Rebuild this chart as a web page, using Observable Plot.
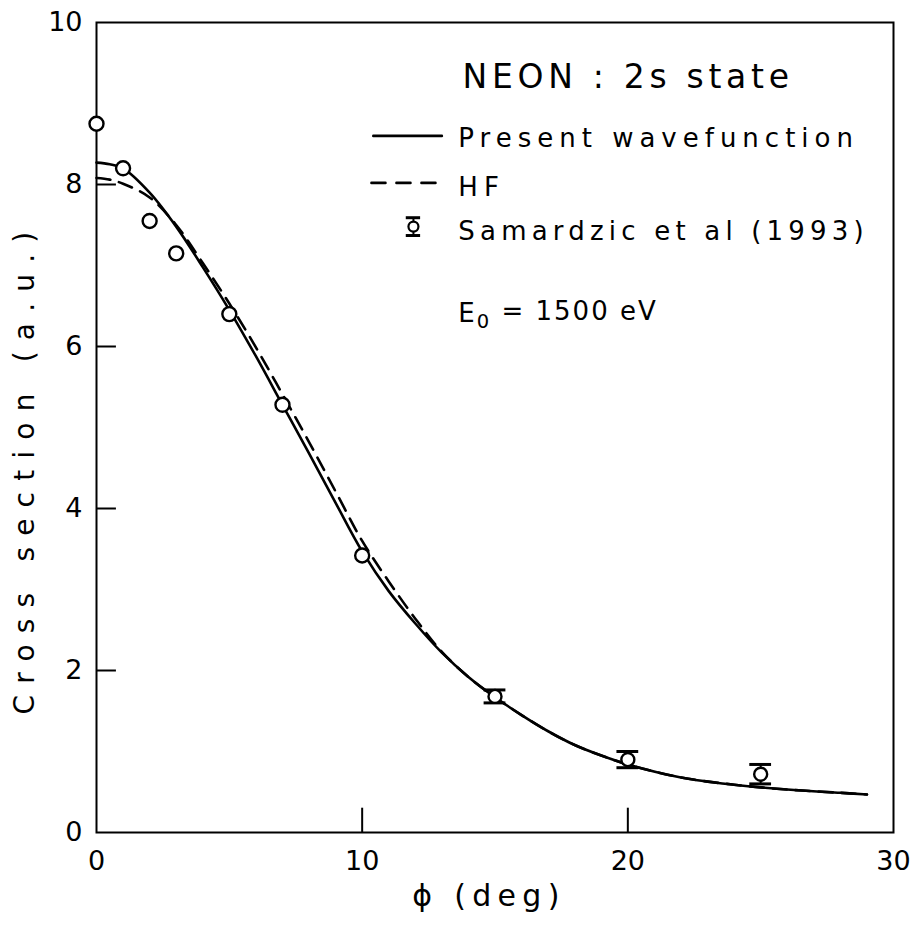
<!DOCTYPE html>
<html><head><meta charset="utf-8">
<script src="https://cdn.jsdelivr.net/npm/d3@7"></script>
<script src="https://cdn.jsdelivr.net/npm/@observablehq/plot@0.6"></script>
<style>
body{margin:0;background:#fff}
</style>
</head><body><div id="chart"></div>
<script>
// tick labels
const xTickLabels = [0, 10, 20, 30];
const yTickLabels = [0, 2, 4, 6, 8, 10];
const xInnerTicks = [10, 20];
const yInnerTicks = [2, 4, 6, 8];

// Present wavefunction (solid)
const presentX = [0, 0.5, 1, 2, 3, 4, 5, 6, 7, 8, 9, 10, 11, 12, 13, 14, 15, 16, 17, 18, 19, 20, 22, 24, 26, 28, 29];
const presentY = [8.27, 8.25, 8.2, 7.9, 7.48, 6.98, 6.45, 5.88, 5.28, 4.68, 4.07, 3.47, 2.98, 2.58, 2.22, 1.92, 1.67, 1.45, 1.25, 1.08, 0.95, 0.84, 0.68, 0.59, 0.53, 0.49, 0.47];

// HF (dashed)
const hfX = [0, 0.5, 1, 2, 3, 4, 5, 6, 7, 8, 9, 10, 11, 12, 13, 14, 15, 16, 17, 18, 19, 20, 22, 24, 26, 28, 29];
const hfY = [8.08, 8.06, 8.01, 7.84, 7.5, 7.03, 6.53, 5.99, 5.41, 4.82, 4.21, 3.6, 3.1, 2.64, 2.23, 1.92, 1.67, 1.45, 1.25, 1.08, 0.95, 0.84, 0.68, 0.59, 0.53, 0.49, 0.47];

// Samardzic et al (1993)
const expX = [0, 1, 2, 3, 5, 7, 10, 15, 20, 25];
const expY = [8.75, 8.2, 7.55, 7.15, 6.4, 5.28, 3.42, 1.68, 0.9, 0.72];
const expErr = [0, 0, 0, 0, 0, 0, 0, 0.08, 0.1, 0.12];

// legend / annotation texts
const titleText = ["NEON : 2s state"];
const legendLabels = ["Present wavefunction", "HF", "Samardzic et al (1993)"];
const legendLabelY = [8.46, 7.86, 7.31];
const energyText = ["E0 = 1500 eV"];
const yLabel = "Cross section (a.u.)";
const xLabel = "\u03D5 (deg)";

const present = presentX.map((x, i) => ({x, y: presentY[i]}));
const hf = hfX.map((x, i) => ({x, y: hfY[i]}));
const exp = expX.map((x, i) => ({x, y: expY[i], e: expErr[i]}));
const expBars = exp.filter(d => d.e > 0);
const expPlain = exp.filter(d => d.e === 0);
const legendRows = legendLabels.map((t, i) => ({t, y: legendLabelY[i]}));

const legendSolid = [{x: 10.42, y: 8.6}, {x: 13.0, y: 8.6}];
const legendDashed = [{x: 10.35, y: 8.02}, {x: 13.0, y: 8.02}];
const legendSym = [{x: 11.93, y: 7.48, e: 0.11}];

const capW = 0.41, legCapW = 0.27;

const chart = Plot.plot({
  width: 912, height: 928,
  marginTop: 22, marginRight: 19, marginBottom: 96, marginLeft: 96,
  x: {domain: [0, 30]},
  y: {domain: [0, 10]},
  style: {fontFamily: "DejaVu Sans", background: "white", color: "black"},
  marks: [
    Plot.frame({strokeWidth: 2}),
    Plot.axisX({ticks: xTickLabels, tickSize: 0, tickPadding: 18, fontSize: 27, label: null}),
    Plot.axisY({ticks: yTickLabels, tickSize: 0, tickPadding: 14, fontSize: 27, label: null}),
    Plot.ruleX(xInnerTicks, {x: d => d, y1: 0, y2: 0.3, strokeWidth: 2}),
    Plot.ruleY(yInnerTicks, {y: d => d, x1: 0, x2: 0.75, strokeWidth: 2}),
    Plot.line(present, {x: "x", y: "y", curve: "catmull-rom", strokeWidth: 2.6}),
    Plot.line(hf, {x: "x", y: "y", curve: "catmull-rom", strokeWidth: 2.6, strokeDasharray: "14,9"}),
    Plot.ruleX(expBars, {x: "x", y1: d => d.y - d.e, y2: d => d.y + d.e, strokeWidth: 2}),
    Plot.ruleY(expBars, {y: d => d.y - d.e, x1: d => d.x - capW, x2: d => d.x + capW, strokeWidth: 3}),
    Plot.ruleY(expBars, {y: d => d.y + d.e, x1: d => d.x - capW, x2: d => d.x + capW, strokeWidth: 3}),
    Plot.dot(expPlain, {x: "x", y: "y", r: 7, fill: "white", stroke: "black", strokeWidth: 2.4}),
    Plot.dot(expBars, {x: "x", y: "y", r: 6.5, fill: "white", stroke: "black", strokeWidth: 2.4}),
    // legend
    Plot.text(titleText, {x: 13.78, y: 9.19, text: d => d, textAnchor: "start", lineAnchor: "bottom", fontSize: 33}),
    Plot.line(legendSolid, {x: "x", y: "y", strokeWidth: 2.6}),
    Plot.line(legendDashed, {x: "x", y: "y", strokeWidth: 2.6, strokeDasharray: "14,11"}),
    Plot.ruleX(legendSym, {x: "x", y1: d => d.y - d.e, y2: d => d.y + d.e, strokeWidth: 2}),
    Plot.ruleY(legendSym, {y: d => d.y - d.e, x1: d => d.x - legCapW, x2: d => d.x + legCapW, strokeWidth: 3}),
    Plot.ruleY(legendSym, {y: d => d.y + d.e, x1: d => d.x - legCapW, x2: d => d.x + legCapW, strokeWidth: 3}),
    Plot.dot(legendSym, {x: "x", y: "y", r: 5, fill: "white", stroke: "black", strokeWidth: 2.2}),
    Plot.text(legendRows, {x: 13.62, y: "y", text: "t", textAnchor: "start", lineAnchor: "bottom", fontSize: 26}),
    Plot.text(energyText, {x: 13.62, y: 6.3, text: d => d, textAnchor: "start", lineAnchor: "bottom", fontSize: 26}),
    // axis titles
    Plot.text([yLabel], {frameAnchor: "left", text: d => d, rotate: -90, dx: -71, dy: 40, fontSize: 28, textAnchor: "middle", lineAnchor: "middle"}),
    Plot.text([xLabel], {frameAnchor: "bottom", text: d => d, dx: -6, dy: 73, fontSize: 30, textAnchor: "middle", lineAnchor: "bottom"})
  ]
});

// letter spacing to match the wide technical lettering
const spacing = new Map([
  [titleText[0], 4.7],
  [legendLabels[0], 6],
  [legendLabels[1], 6],
  [legendLabels[2], 5.2],
  [energyText[0], 2],
  [yLabel, 11.2],
  [xLabel, 6.3]
]);
d3.select(chart).selectAll("text").each(function() {
  const t = this.textContent;
  if (spacing.has(t)) this.setAttribute("letter-spacing", spacing.get(t));
  if (t === energyText[0]) {
    const sel = d3.select(this);
    sel.text(null);
    sel.append("tspan").text("E");
    sel.append("tspan").attr("dy", "0.3em").attr("font-size", "0.75em").text("0");
    sel.append("tspan").attr("dy", "-0.3em").text(" = 1500 eV");
  }
});
document.getElementById("chart").appendChild(chart);
</script>
</body></html>
